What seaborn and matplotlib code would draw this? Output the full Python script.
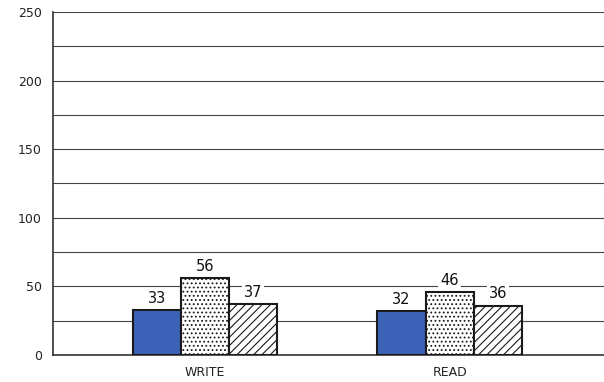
import matplotlib
matplotlib.use("Agg")
import matplotlib.pyplot as plt
import seaborn as sns
import pandas as pd

categories = ["WRITE", "READ"]
series = ["A", "B", "C"]
values_a = [33, 32]
values_b = [56, 46]
values_c = [37, 36]

rows = []
for i, c in enumerate(categories):
    rows.append((c, "A", values_a[i]))
    rows.append((c, "B", values_b[i]))
    rows.append((c, "C", values_c[i]))
df = pd.DataFrame(rows, columns=["op", "series", "value"])

sns.set_style("white")
plt.rcParams["font.family"] = ["DejaVu Sans"]
plt.rcParams["hatch.linewidth"] = 0.8

fig = plt.figure(figsize=(6.04, 3.82), dpi=100)
ax = fig.add_axes([0.0877, 0.0707, 0.9123, 0.8979])

palette = {"A": "#3d63b8", "B": "white", "C": "white"}
sns.barplot(data=df, x="op", y="value", hue="series", palette=palette,
            order=categories, hue_order=series, width=0.59, saturation=1,
            edgecolor="#1a1a1a", linewidth=1.5, legend=False, ax=ax, zorder=3)

hatches = {"A": "", "B": "....", "C": "////"}
for cont, s in zip(ax.containers, series):
    for bar in cont:
        bar.set_hatch(hatches[s])
        bar.set_edgecolor("#1a1a1a")
    labels = ax.bar_label(cont, padding=3, fontsize=10.5, color="#111111")
    for t in labels:
        t.set_bbox(dict(facecolor="white", edgecolor="none", pad=1.5))
        t.set_zorder(4)

ax.set_ylim(0, 250)
ax.set_xlim(-0.62, 1.63)
ax.set_yticks([0, 50, 100, 150, 200, 250])
ax.set_yticks(range(0, 251, 25), minor=True)
ax.grid(axis="y", which="both", color="#444444", linewidth=0.8, zorder=0)
ax.set_axisbelow(True)
ax.tick_params(axis="both", length=0, labelsize=9, colors="#222222", pad=8)
ax.set_xlabel("")
ax.set_ylabel("")
ax.set_xticks([0, 1])
ax.set_xticklabels(categories, fontsize=9)

for side in ["top", "right"]:
    ax.spines[side].set_visible(False)
ax.spines["left"].set_color("#333333")
ax.spines["left"].set_linewidth(1.2)
ax.spines["bottom"].set_color("#333333")
ax.spines["bottom"].set_linewidth(1.2)

fig.savefig("out.png", dpi=100)
